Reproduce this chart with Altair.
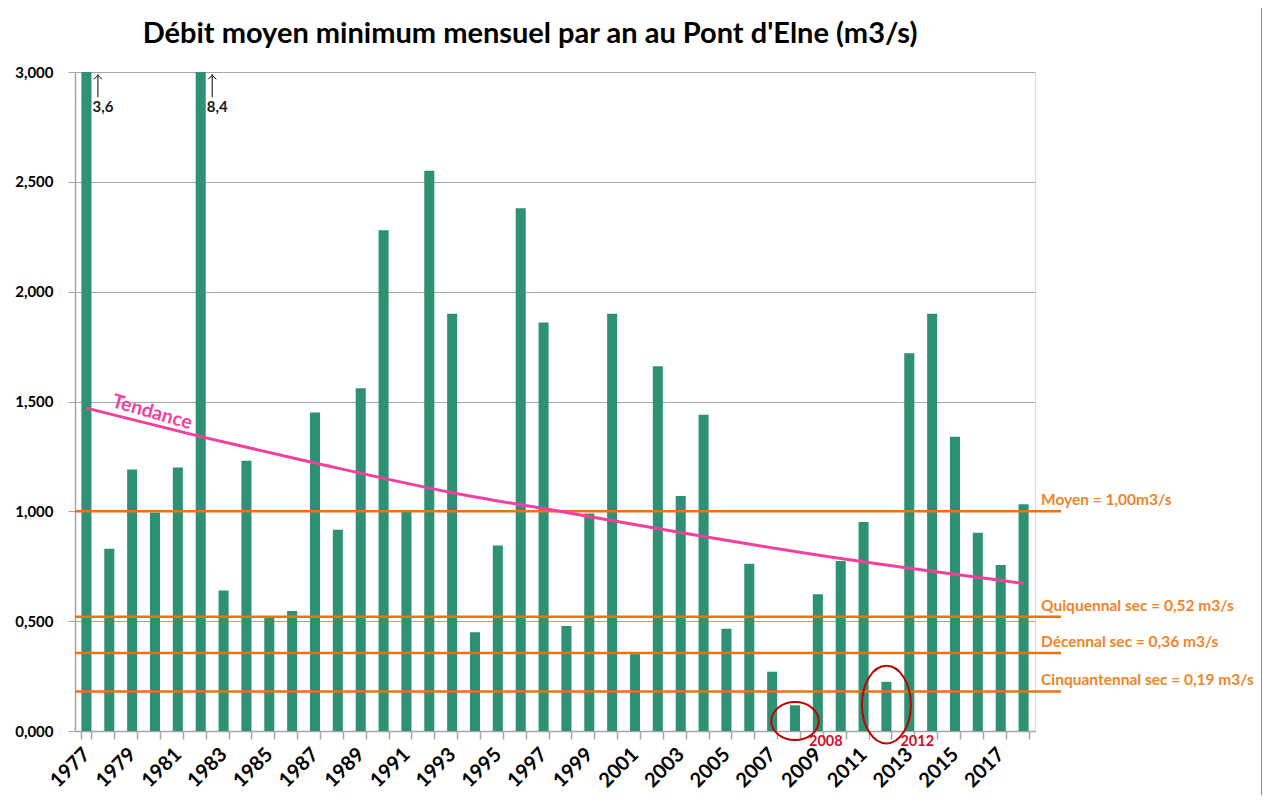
import altair as alt
import pandas as pd

# ---- data ----
years = list(range(1977, 2019))
debit = [3.6, 0.83, 1.19, 0.995, 1.20, 8.4, 0.64, 1.23, 0.52, 0.546,
         1.45, 0.916, 1.56, 2.28, 1.00, 2.55, 1.90, 0.45, 0.845, 2.38,
         1.86, 0.478, 0.99, 1.90, 0.35, 1.66, 1.07, 1.44, 0.465, 0.761,
         0.27, 0.117, 0.622, 0.774, 0.952, 0.224, 1.72, 1.90, 1.34, 0.903,
         0.756, 1.032]

trend_years = [1977, 1982, 1987, 1993, 1998, 2004, 2011, 2018]
trend_values = [1.47, 1.34, 1.22, 1.085, 0.995, 0.885, 0.77, 0.672]

ref_values = [1.00, 0.52, 0.355, 0.18]
ref_labels = ["Moyen = 1,00m3/s", "Quiquennal sec = 0,52 m3/s",
              "Décennal sec = 0,36 m3/s", "Cinquantennal sec = 0,19 m3/s"]

over_years = [1977, 1982]
over_labels = ["3,6", "8,4"]

circle_years = [2008, 2012]
circle_labels = ["2008", "2012"]
circle_y = [0.045, 0.12]

title_text = "Débit moyen minimum mensuel par an au Pont d'Elne (m3/s)"

GREEN = "#2E9173"
ORANGE = "#EC7216"
ORANGE_TXT = "#F08428"
PINK = "#F43F9E"
RED = "#C00000"
GRID = "#A6A6A6"
FONT = "Lato"

df = pd.DataFrame({"year": years, "value": debit})
df_trend = pd.DataFrame({"year": trend_years, "value": trend_values})
df_ref = pd.DataFrame({"value": ref_values, "label": ref_labels})
df_over = pd.DataFrame({"year": over_years, "label": over_labels})
df_circ = pd.DataFrame({"year": circle_years, "label": circle_labels, "cy": circle_y})

xscale = alt.Scale(domain=years, paddingInner=0.56, paddingOuter=0.28)
yscale = alt.Scale(domain=[0, 3], nice=False, zero=True)

xaxis = alt.Axis(
    title=None, labelAngle=-45, labelExpr="datum.value % 2 == 1 ? datum.label : ''",
    tickBand="extent", ticks=True, tickSize=8, tickColor=GRID, tickWidth=1.5,
    domainColor=GRID, domainWidth=1.5, labelFont=FONT, labelFontWeight="bold",
    labelFontSize=20, labelColor="black", labelAlign="right", labelBaseline="middle",
    labelPadding=12, labelOverlap=False, grid=False,
)
yaxis = alt.Axis(
    title=None, values=[0, 0.5, 1, 1.5, 2, 2.5, 3],
    labelExpr="replace(format(datum.value, '.3f'), '.', ',')",
    grid=True, gridColor=GRID, gridWidth=1.2, tickColor=GRID, tickSize=7,
    domainColor=GRID, domainWidth=1.5, labelFont=FONT, labelFontWeight="bold",
    labelFontSize=15, labelColor="black", labelPadding=15,
)

X = alt.X("year:O", scale=xscale, axis=xaxis)

bars = alt.Chart(df).mark_bar(color=GREEN, clip=True).encode(
    x=X, y=alt.Y("value:Q", scale=yscale, axis=yaxis)
)

refs = alt.Chart(df_ref).mark_rule(color=ORANGE, strokeWidth=2.5).encode(
    y=alt.Y("value:Q", scale=yscale), x=alt.value(0), x2=alt.value(986)
)
ref_text = alt.Chart(df_ref).mark_text(
    align="left", baseline="middle", font=FONT, fontWeight="bold",
    fontSize=15.5, color=ORANGE_TXT, dy=-11
).encode(y=alt.Y("value:Q", scale=yscale), x=alt.value(966), text="label:N")

trend = alt.Chart(df_trend).mark_line(color=PINK, strokeWidth=3, interpolate="monotone").encode(
    x=X, y=alt.Y("value:Q", scale=yscale)
)
trend_lbl = alt.Chart(pd.DataFrame({"year": [1980], "value": [1.447], "t": ["Tendance"]})).mark_text(
    font=FONT, fontWeight="bold", fontSize=19.5, color=PINK, angle=16,
    align="center", baseline="middle", dx=-3
).encode(x=X, y=alt.Y("value:Q", scale=yscale), text="t:N")

# overflow annotations (arrow + value)
arrow_line = alt.Chart(df_over).mark_rule(color="black", strokeWidth=1, xOffset=11.5).encode(
    x=X, y=alt.datum(2.99), y2=alt.datum(2.885)
)
arrow_head = alt.Chart(df_over).mark_point(
    shape="M -1 1 L 0 0 L 1 1", size=64, filled=False, color="black",
    strokeWidth=1, xOffset=11.5, opacity=1
).encode(x=X, y=alt.datum(2.985))
over_text = alt.Chart(df_over).mark_text(
    align="left", baseline="middle", font=FONT, fontWeight="bold", fontSize=15,
    color="#1a1a1a", dx=6
).encode(x=X, y=alt.datum(2.84), text="label:N")

# red ellipses
ell1 = alt.Chart(df_circ[df_circ.year == 2008]).mark_point(
    shape="M -1.25 0 A 1.25 1 0 1 0 1.25 0 A 1.25 1 0 1 0 -1.25 0",
    size=1444, filled=False, color=RED, strokeWidth=2, opacity=1
).encode(x=X, y=alt.Y("cy:Q", scale=yscale))
ell2 = alt.Chart(df_circ[df_circ.year == 2012]).mark_point(
    shape="M -0.63 0 A 0.63 1 0 1 0 0.63 0 A 0.63 1 0 1 0 -0.63 0",
    size=6022, filled=False, color=RED, strokeWidth=2, opacity=1
).encode(x=X, y=alt.Y("cy:Q", scale=yscale))
circ_text = alt.Chart(df_circ).mark_text(
    align="left", baseline="middle", font=FONT, fontWeight="bold", fontSize=14.5,
    color="#D0102A", dx=14, dy=11
).encode(x=X, y=alt.datum(0), text="label:N")

title = alt.Chart(pd.DataFrame({"t": [title_text]})).mark_text(
    font=FONT, fontWeight="bold", fontSize=29, color="black",
    align="center", baseline="middle"
).encode(x=alt.value(455), y=alt.value(-38), text="t:N")

frame = alt.Chart(pd.DataFrame({"k": [0, 1], "px": [-68, 1187]})).mark_rule(
    color="#8C8C8C", strokeWidth=2
).encode(x=alt.X("px:Q", scale=None), y=alt.value(-72), y2=alt.value(730))

chart = alt.layer(
    bars, refs, trend, trend_lbl, ref_text, arrow_line, arrow_head, over_text,
    ell1, ell2, circ_text, title, frame
).properties(
    width=960, height=659,
    padding={"left": 67, "top": 64, "right": 227, "bottom": 64},
    autosize=alt.AutoSizeParams(type="none"),
).configure_view(stroke=None).configure(background="white")

chart.save("out.html", embed_options={"renderer": "svg", "actions": False})
